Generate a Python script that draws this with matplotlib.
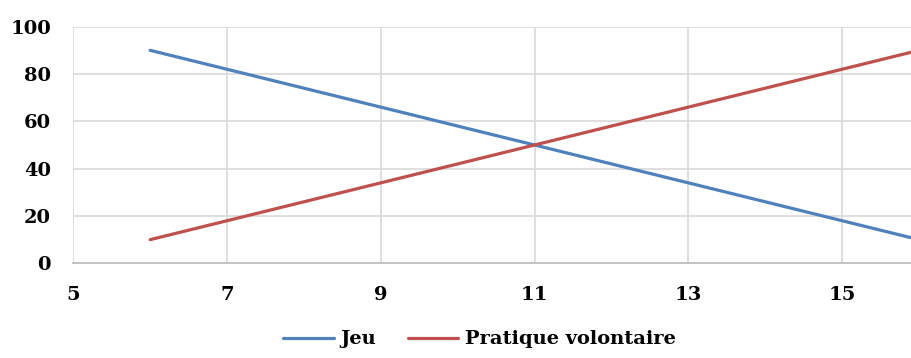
import matplotlib.pyplot as plt
import numpy as np

plt.switch_backend("Agg")

# data
x_vals = [6, 7, 8, 9, 10, 11, 12, 13, 14, 15, 16]
jeu = [90, 82, 74, 66, 58, 50, 42, 34, 26, 18, 10]
pratique = [10, 18, 26, 34, 42, 50, 58, 66, 74, 82, 90]
x_ticks = [5, 7, 9, 11, 13, 15]
y_ticks = [0, 20, 40, 60, 80, 100]

plt.rcParams["font.family"] = ["DejaVu Serif"]
plt.rcParams["font.weight"] = "bold"

fig = plt.figure(figsize=(9.12, 3.58), dpi=100)
ax = fig.add_axes([0.0804, 0.2645, 0.9196, 0.661])

ax.plot(x_vals, jeu, color="#4F81BD", lw=2.3, solid_capstyle="round", label="Jeu", zorder=3)
ax.plot(x_vals, pratique, color="#C0504D", lw=2.3, solid_capstyle="round", label="Pratique volontaire", zorder=3)

ax.set_xlim(5, 15.91)
ax.set_ylim(0, 100)
ax.set_xticks(x_ticks)
ax.set_yticks(y_ticks)
ax.grid(True, color="#d9d9d9", lw=1.2)
ax.set_axisbelow(True)
for side in ["top", "right", "left"]:
    ax.spines[side].set_visible(False)
ax.spines["bottom"].set_color("#bfbfbf")
ax.spines["bottom"].set_linewidth(1.3)
ax.tick_params(length=0, labelsize=14, pad=16)
ax.tick_params(axis="y", pad=16)
for lab in ax.get_xticklabels() + ax.get_yticklabels():
    lab.set_fontweight("bold")

fig.legend(loc="lower center", bbox_to_anchor=(0.526, -0.022), ncol=2, frameon=False,
           prop={"size": 14, "weight": "bold"}, handlelength=2.6, columnspacing=1.6,
           handletextpad=0.35)

fig.savefig("out.png", dpi=100)
